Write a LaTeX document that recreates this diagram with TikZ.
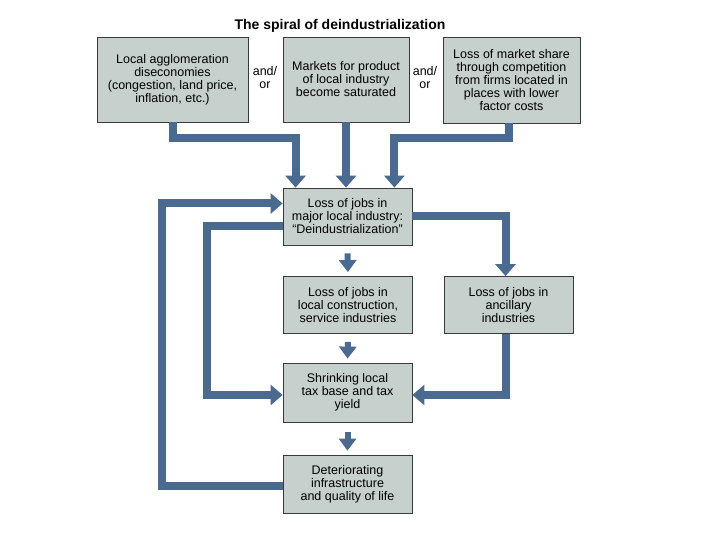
\documentclass[tikz,border=0pt]{standalone}
\usepackage{fontspec}
\setmainfont{Liberation Sans}
\usetikzlibrary{arrows.meta,calc}
\definecolor{arrowblue}{HTML}{4A6A8F}
\definecolor{boxfill}{HTML}{C6D0CC}
\definecolor{boxline}{HTML}{3A3A3A}
\begin{document}
\begin{tikzpicture}[x=1pt,y=-1pt,
  box/.style={draw=boxline, line width=0.8pt, fill=boxfill, inner sep=0pt, align=center,
    font=\fontsize{12.5}{13}\selectfont},
  midbox/.style={box, minimum width=129pt, minimum height=57pt},
  bigarrow/.style={draw=arrowblue, line width=8pt, line join=miter,
    -{Triangle[width=20pt,length=12pt]}},
  smallarrow/.style={draw=arrowblue, line width=6pt,
    -{Triangle[width=17pt,length=12pt]}, shorten <=8pt, shorten >=4pt},
  andor/.style={align=center, inner sep=0pt, font=\fontsize{12.5}{13}\selectfont},
  titlestyle/.style={inner sep=0pt, font=\fontsize{14}{16}\selectfont\bfseries}]
\useasboundingbox (0,0) rectangle (720,540);

\node[titlestyle] (title) at (340,26) {The spiral of deindustrialization};

\node[box, minimum width=151pt, minimum height=85pt] (A) at (172.5,79.5)
  {Local agglomeration\\diseconomies\\(congestion, land price,\\inflation, etc.)};
\node[andor] (ao1) at (265,78) {and/\\or};
\node[box, minimum width=126pt, minimum height=85pt] (B) at (346,79.5)
  {Markets for product\\of local industry\\become saturated};
\node[andor] (ao2) at (425,78) {and/\\or};
\node[box, minimum width=137pt, minimum height=86pt] (C) at (511.5,80)
  {Loss of market share\\through competition\\from firms located in\\places with lower\\factor costs};

\node[midbox] (D) at (347.5,216.5) {Loss of jobs in\\major local industry:\\``Deindustrialization''};
\node[midbox] (E) at (348,305) {Loss of jobs in\\local construction,\\service industries};
\node[midbox] (F) at (508.5,305) {Loss of jobs in\\ancillary\\industries};
\node[midbox, minimum height=59pt] (G) at (347.5,392.5) {Shrinking local\\tax base and tax\\yield};
\node[midbox, minimum height=58pt] (H) at (347.5,484) {Deteriorating\\infrastructure\\and quality of life};

\draw[bigarrow] (A.south) -- ++(0,16) -| ($(D.north west)+(13,0)$);
\draw[bigarrow] (B.south) -- (B.south |- D.north);
\draw[bigarrow] ([xshift=-2.5pt]C.south) -- ++(0,15) -| ($(D.north east)+(-18,0)$);
\draw[bigarrow] (D.east) -| ([xshift=-3pt]F.north);
\draw[bigarrow] ([xshift=-3pt]F.south) |- ($(G.east)+(0,2.5)$);
\draw[bigarrow] ($(D.west)+(0,10)$) -- ++(-76,0) |- ($(G.west)+(0,2.5)$);
\draw[bigarrow] ($(H.west)+(0,2)$) -- ++(-121,0) |- ($(D.west)+(0,-13)$);

\draw[smallarrow] (D.south) -- (E.north);
\draw[smallarrow] (E.south) -- (G.north);
\draw[smallarrow, shorten <=10pt] (G.south) -- (H.north);
\end{tikzpicture}
\end{document}
